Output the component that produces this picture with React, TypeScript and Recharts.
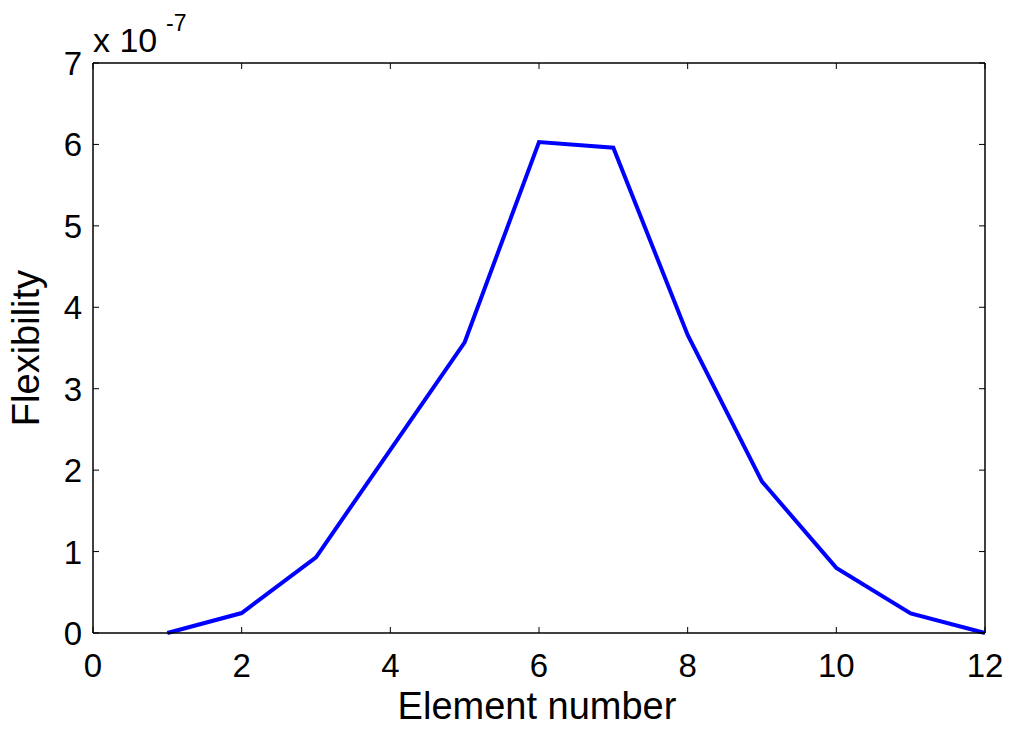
import React from 'react';
import { LineChart, Line, XAxis, YAxis, ReferenceLine } from 'recharts';

// values are in units of 1e-7
const elementNumbers = [1, 2, 3, 4, 5, 6, 7, 8, 9, 10, 11, 12];
const flexibility = [0, 0.245, 0.93, 2.25, 3.57, 6.03, 5.96, 3.66, 1.86, 0.8, 0.24, 0];
const xTicks = [0, 2, 4, 6, 8, 10, 12];
const yTicks = [0, 1, 2, 3, 4, 5, 6, 7];

const W = 1013;
const H = 729;
const LEFT = 93;
const RIGHT = 985;
const TOP = 63;
const BOTTOM = 633;
const TICK_LEN = 6;
const FONT = '"Liberation Sans", Arial, sans-serif';

const data = elementNumbers.map((e, i) => ({ element: e, flex: flexibility[i] }));

const XTick = (props: any) => {
  const { x, payload } = props;
  return (
    <g>
      <line x1={x} x2={x} y1={BOTTOM} y2={BOTTOM - TICK_LEN} stroke="#000" />
      <line x1={x} x2={x} y1={TOP} y2={TOP + TICK_LEN} stroke="#000" />
      <text x={x} y={BOTTOM + 44} textAnchor="middle" fontSize={33} fontFamily={FONT} fill="#000">
        {payload.value}
      </text>
    </g>
  );
};

const YTick = (props: any) => {
  const { y, payload } = props;
  return (
    <g>
      <line x1={LEFT} x2={LEFT + TICK_LEN} y1={y} y2={y} stroke="#000" />
      <line x1={RIGHT} x2={RIGHT - TICK_LEN} y1={y} y2={y} stroke="#000" />
      <text x={LEFT - 11} y={y + 12} textAnchor="end" fontSize={33} fontFamily={FONT} fill="#000">
        {payload.value}
      </text>
    </g>
  );
};

const XLabel = (props: any) => {
  const { viewBox } = props;
  return (
    <text x={viewBox.x + viewBox.width / 2 - 2} y={719} textAnchor="middle" fontSize={38} fontFamily={FONT} fill="#000">
      Element number
    </text>
  );
};

const YLabel = (props: any) => {
  const { viewBox } = props;
  const cy = viewBox.y + viewBox.height / 2;
  return (
    <text
      x={39}
      y={cy}
      transform={`rotate(-90, 39, ${cy})`}
      textAnchor="middle"
      fontSize={38}
      fontFamily={FONT}
      fill="#000"
    >
      Flexibility
    </text>
  );
};

export default function App() {
  return (
    <div style={{ position: 'absolute', left: 0, top: 0, width: W, height: H, background: '#fff' }}>
      <LineChart
        width={W}
        height={H}
        data={data}
        margin={{ top: TOP, right: W - RIGHT, bottom: 0, left: 0 }}
      >
        <XAxis
          dataKey="element"
          type="number"
          domain={[0, 12]}
          ticks={xTicks}
          interval={0}
          height={H - BOTTOM}
          tickSize={0}
          tickMargin={0}
          tick={<XTick />}
          axisLine={{ stroke: '#000', strokeWidth: 1.5 }}
          label={<XLabel />}
        />
        <YAxis
          type="number"
          domain={[0, 7]}
          ticks={yTicks}
          interval={0}
          width={LEFT}
          tickSize={0}
          tickMargin={0}
          tick={<YTick />}
          axisLine={{ stroke: '#000', strokeWidth: 1.5 }}
          label={<YLabel />}
        />
        <ReferenceLine y={7} stroke="#000" strokeWidth={1.5} />
        <ReferenceLine x={12} stroke="#000" strokeWidth={1.5} />
        <Line
          type="linear"
          dataKey="flex"
          stroke="#0000ff"
          strokeWidth={4}
          dot={false}
          isAnimationActive={false}
        />
      </LineChart>
      <svg
        width={200}
        height={60}
        style={{ position: 'absolute', left: 0, top: 0, overflow: 'visible' }}
      >
        <text x={93} y={52} fontSize={34} fontFamily={FONT} fill="#000">
          x 10
          <tspan x={166} y={31} fontSize={23}>-7</tspan>
        </text>
      </svg>
    </div>
  );
}
